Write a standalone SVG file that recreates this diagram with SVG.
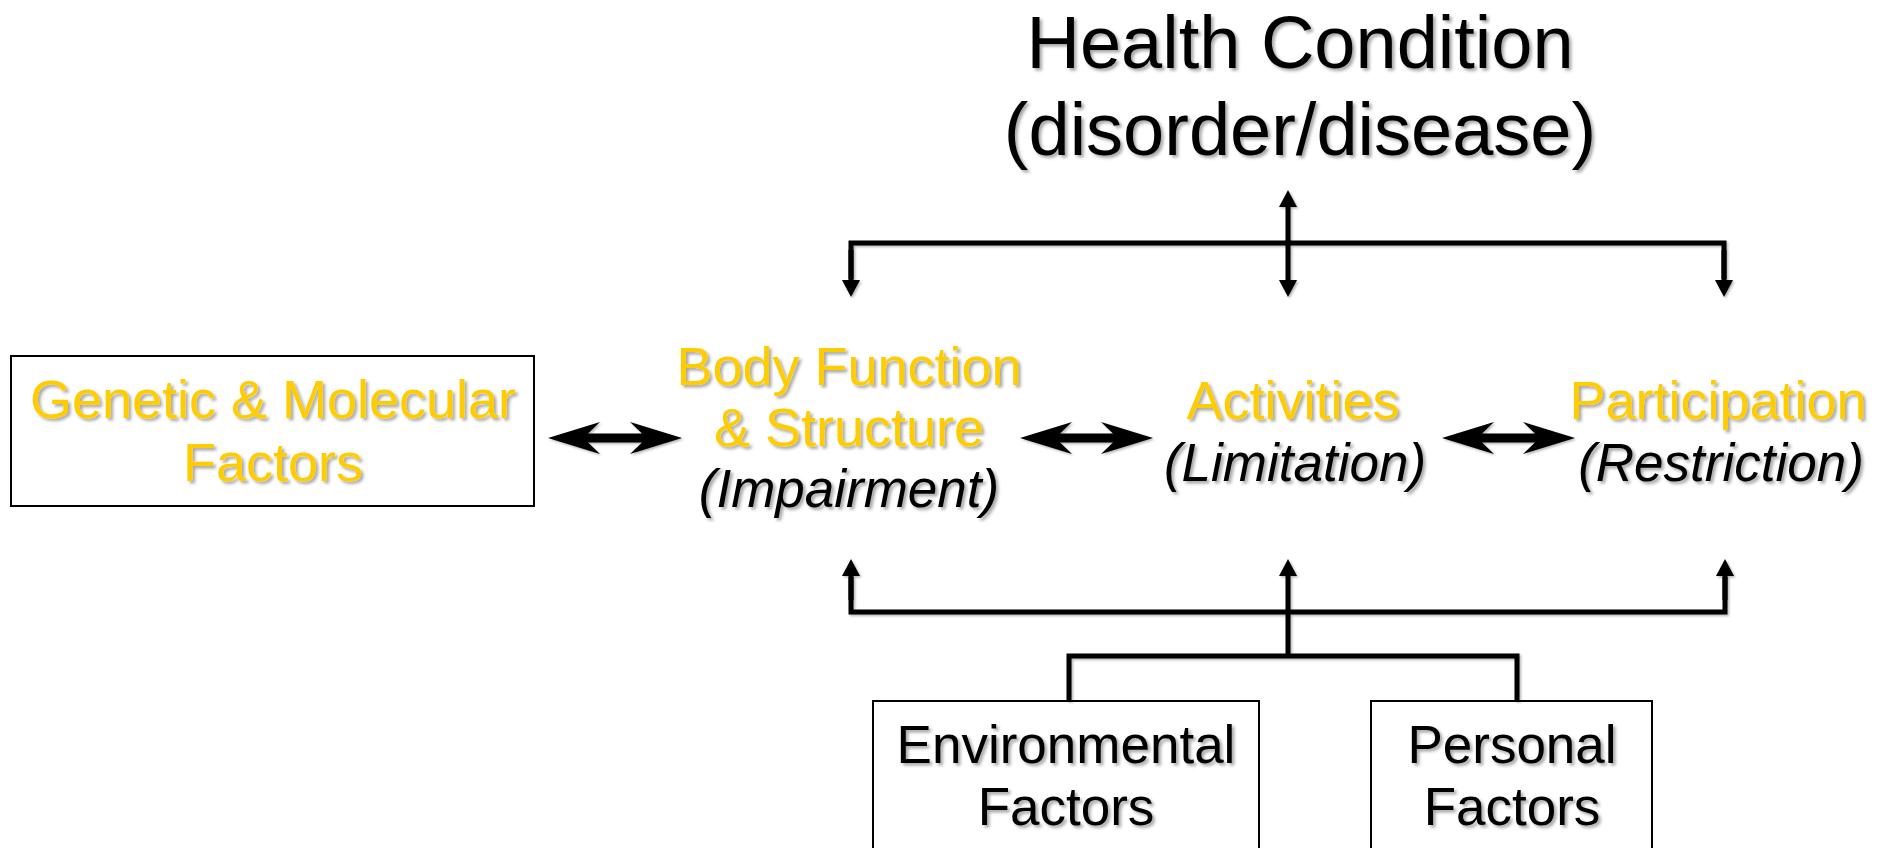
<svg xmlns="http://www.w3.org/2000/svg" width="1877" height="848" viewBox="0 0 1877 848">
  <defs>
    <filter id="ts" x="-10%" y="-30%" width="120%" height="160%">
      <feDropShadow dx="2.5" dy="2.5" stdDeviation="1.5" flood-color="#000" flood-opacity="0.35"/>
    </filter>
    <filter id="ls" x="-5%" y="-50%" width="110%" height="200%">
      <feDropShadow dx="1.5" dy="1.5" stdDeviation="0.8" flood-color="#000" flood-opacity="0.3"/>
    </filter>
    <marker id="ah" markerUnits="userSpaceOnUse" markerWidth="18" markerHeight="18" viewBox="0 0 17 18" refX="0" refY="9" orient="auto">
      <path d="M0,0 L17,9 L0,18 Z" fill="#000"/>
    </marker>
  </defs>
  <style>
    text { font-family: "Liberation Sans", Arial, sans-serif; text-anchor: middle; }
    .head { font-size: 74px; fill: #000; filter: url(#ts); }
    .yel { font-size: 54px; fill: #FFCC00; filter: url(#ts); }
    .it { font-size: 53px; fill: #000; font-style: italic; filter: url(#ts); }
    .blk { font-size: 53px; fill: #000; filter: url(#ts); }
    .box { fill: #fff; stroke: #000; stroke-width: 2; }
    .ln { fill: none; stroke: #000; stroke-width: 5; stroke-linejoin: miter; }
    .arr { stroke: #000; stroke-width: 5; marker-end: url(#ah); }
    .dbl { fill: #000; }
  </style>

  <g id="health-condition">
    <text class="head" x="1300" y="68">Health Condition</text>
    <text class="head" x="1300" y="155">(disorder/disease)</text>
  </g>

  <g id="genetic-molecular">
    <rect class="box" x="11" y="356" width="523" height="150"/>
    <text class="yel" x="273" y="418">Genetic &amp; Molecular</text>
    <text class="yel" x="273" y="481">Factors</text>
  </g>

  <g id="body-function">
    <text class="yel" x="849" y="385">Body Function</text>
    <text class="yel" x="849" y="446">&amp; Structure</text>
    <text class="it" x="849" y="507">(Impairment)</text>
  </g>

  <g id="activities">
    <text class="yel" x="1293" y="419">Activities</text>
    <text class="it" x="1295" y="481">(Limitation)</text>
  </g>

  <g id="participation">
    <text class="yel" x="1718" y="419">Participation</text>
    <text class="it" x="1721" y="481">(Restriction)</text>
  </g>

  <g id="environmental-factors">
    <rect class="box" x="873" y="701" width="386" height="170"/>
    <text class="blk" x="1066" y="763">Environmental</text>
    <text class="blk" x="1066" y="825">Factors</text>
  </g>

  <g id="personal-factors">
    <rect class="box" x="1371" y="701" width="281" height="170"/>
    <text class="blk" x="1512" y="763">Personal</text>
    <text class="blk" x="1512" y="825">Factors</text>
  </g>

  <g id="connectors" filter="url(#ls)">
    <!-- top bus -->
    <polyline class="ln" points="851,279 851,243 1724,243 1724,279"/>
    <line class="arr" x1="851" y1="250" x2="851" y2="280"/>
    <line class="arr" x1="1724" y1="250" x2="1724" y2="280"/>
    <line class="arr" x1="1288" y1="240" x2="1288" y2="280"/>
    <line class="arr" x1="1288" y1="246" x2="1288" y2="207"/>
    <!-- bottom bus -->
    <polyline class="ln" points="851,577 851,612 1725,612 1725,577"/>
    <line class="arr" x1="851" y1="600" x2="851" y2="576"/>
    <line class="arr" x1="1725" y1="600" x2="1725" y2="576"/>
    <line class="arr" x1="1288" y1="658" x2="1288" y2="576"/>
    <polyline class="ln" points="1069,701 1069,656 1517,656 1517,701"/>
    <!-- horizontal double arrows -->
    <path class="dbl" d="M548,438 L600,422 L588,433.5 L642,433.5 L630,422 L682,438 L630,454 L642,442.5 L588,442.5 L600,454 Z"/>
    <path class="dbl" d="M1020,438 L1072,422 L1060,433.5 L1113,433.5 L1101,422 L1153,438 L1101,454 L1113,442.5 L1060,442.5 L1072,454 Z"/>
    <path class="dbl" d="M1442,438 L1494,422 L1482,433.5 L1535,433.5 L1523,422 L1575,438 L1523,454 L1535,442.5 L1482,442.5 L1494,454 Z"/>
  </g>
</svg>
